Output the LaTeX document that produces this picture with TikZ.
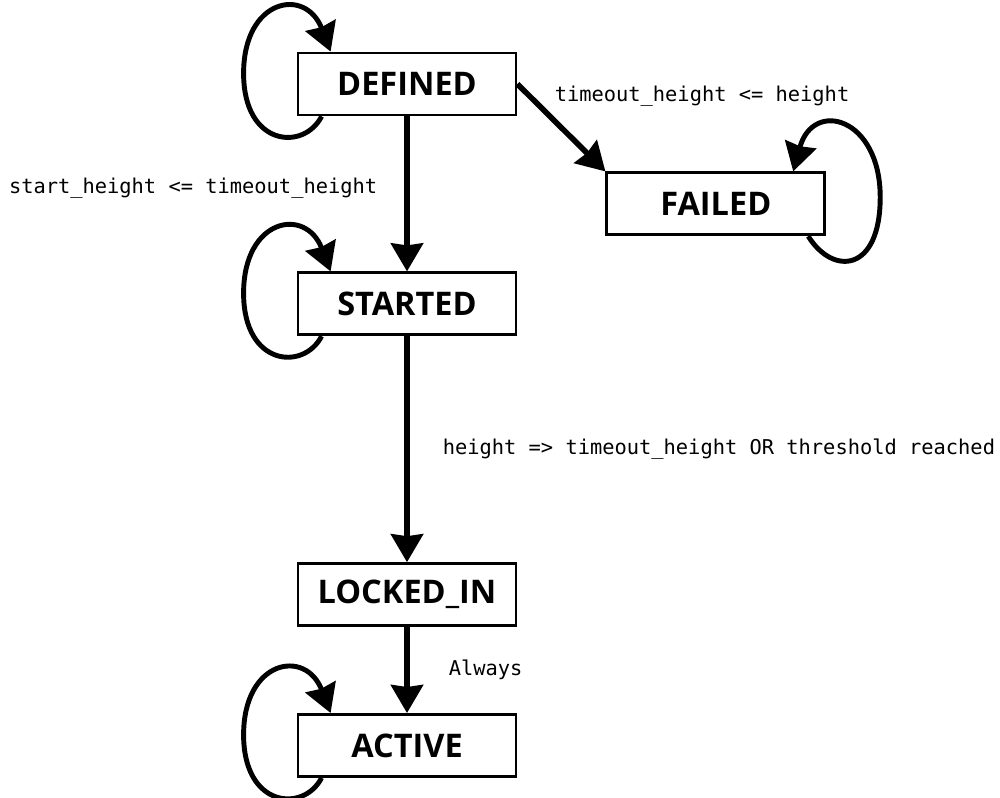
\documentclass[tikz,border=0pt]{standalone}
\usepackage{fontspec}
\setsansfont{Open Sans}
\setmonofont{DejaVu Sans Mono}
\usetikzlibrary{arrows.meta,positioning}

\begin{document}
\begin{tikzpicture}[>={Stealth[length=0.56cm,width=0.64cm,inset=0.04cm]},
  statebox/.style={draw,line width=1.6pt,minimum width=4.36cm,minimum height=1.24cm,inner sep=0pt,font=\sffamily\bfseries\fontsize{18.5}{20}\selectfont},
  flow/.style={->,line width=3.2pt},
  selfloop/.style={->,line width=2.8pt},
  lbl/.style={font=\ttfamily\fontsize{11.6}{13}\selectfont,inner sep=0pt}]
  \useasboundingbox (0,0) rectangle (20,15.96);
  % states
  \node[statebox] (defined) at (8.14,14.28) {DEFINED};
  \node[statebox,below=3.1cm of defined] (started) {STARTED};
  \node[statebox,below=4.52cm of started] (locked) {LOCKED\_IN};
  \node[statebox,below=1.72cm of locked] (active) {ACTIVE};
  \node[statebox,below right=1.1cm and 1.76cm of defined] (failed) {FAILED};
  % transitions
  \draw[flow] (defined) -- node[lbl,pos=0.46,left=0.54cm] {start\_height <= timeout\_height} (started);
  \draw[flow] (defined.east) -- (failed.north west);
  \node[lbl,anchor=west] (lblfail) at ([xshift=0.74cm,yshift=-0.24cm]defined.east) {timeout\_height <= height};
  \draw[flow] (started) -- node[lbl,right=0.66cm] {height => timeout\_height OR threshold reached} (locked);
  \draw[flow] (locked) -- node[lbl,right=0.78cm] {Always} (active);
  % self loops
  \draw[selfloop] ([xshift=0.5cm]defined.south west) .. controls +(-0.36,-0.7) and +(0,-1.46) .. ([shift={(-1.06cm,0.86cm)}]defined.south west) .. controls +(0,1.5) and +(-0.5,1.3) .. ([xshift=0.68cm]defined.north west);
  \draw[selfloop] ([xshift=0.5cm]started.south west) .. controls +(-0.36,-0.7) and +(0,-1.46) .. ([shift={(-1.06cm,0.86cm)}]started.south west) .. controls +(0,1.5) and +(-0.5,1.3) .. ([xshift=0.68cm]started.north west);
  \draw[selfloop] ([xshift=0.5cm]active.south west) .. controls +(-0.36,-0.7) and +(0,-1.46) .. ([shift={(-1.06cm,0.86cm)}]active.south west) .. controls +(0,1.5) and +(-0.5,1.3) .. ([xshift=0.68cm]active.north west);
  \draw[selfloop] ([xshift=-0.36cm]failed.south east) .. controls +(0.5,-0.8) and +(0,-1.5) .. ([shift={(1.08cm,0.78cm)}]failed.south east) .. controls +(0,1.6) and +(0.4,1.45) .. ([xshift=-0.66cm]failed.north east);
\end{tikzpicture}
\end{document}
